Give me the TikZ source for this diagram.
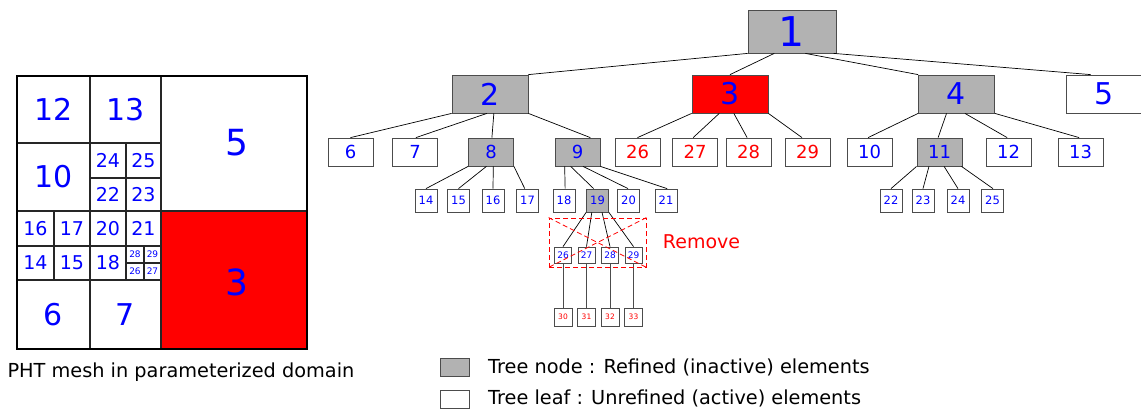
\documentclass[tikz,border=0pt]{standalone}
\usepackage{fontspec}
\setmainfont{DejaVu Sans}
\usetikzlibrary{calc}
\tikzset{
    box/.style={draw=black!70, line width=0.8pt, fill=white, inner sep=0pt, text=blue},
    refined/.style={box, fill=gray!60},
    lvlA/.style={minimum width=88, minimum height=43, font=\fontsize{41}{41}\selectfont},
    lvlB/.style={minimum width=76, minimum height=38, font=\fontsize{30}{30}\selectfont},
    lvlC/.style={minimum width=45, minimum height=28, font=\fontsize{18}{18}\selectfont},
    lvlD/.style={minimum width=22, minimum height=23, font=\fontsize{11.5}{11.5}\selectfont},
    lvlE/.style={minimum width=17, minimum height=16, font=\fontsize{9}{9}\selectfont},
    lvlF/.style={minimum width=18, minimum height=18, font=\fontsize{7.5}{7.5}\selectfont, text=red},
    meshline/.style={black!85, line width=1.2pt},
    cell/.style={text=blue, inner sep=0pt},
    caption/.style={font=\fontsize{19.3}{19.3}\selectfont, inner sep=0pt},
}
\begin{document}
\begin{tikzpicture}[x=1pt,y=-1pt]
\useasboundingbox (0,0) rectangle (1141,410);

% mesh
\fill[red] (161,211) rectangle (307,349);
\draw[meshline] (90,76) -- (90,349) (161,76) -- (161,349);
\draw[meshline] (17,143) -- (161,143) (17,211) -- (307,211) (17,280) -- (161,280);
\draw[meshline] (126,143) -- (126,280) (90,178) -- (161,178);
\draw[meshline] (54,211) -- (54,280) (17,246) -- (161,246);
\draw[meshline] (144,246) -- (144,280) (126,263) -- (161,263);
\draw[black, line width=2pt] (17,76) rectangle (307,349);

\node[cell, font=\fontsize{30}{30}\selectfont] (m12) at (53.5,109.5) {12};
\node[cell, font=\fontsize{30}{30}\selectfont] (m13) at (125.5,109.5) {13};
\node[cell, font=\fontsize{30}{30}\selectfont] (m10) at (53.5,177) {10};
\node[cell, font=\fontsize{30}{30}\selectfont] (m6) at (53.5,314.5) {6};
\node[cell, font=\fontsize{30}{30}\selectfont] (m7) at (125.5,314.5) {7};
\node[cell, font=\fontsize{36}{36}\selectfont] (m5) at (237,143) {5};
\node[cell, font=\fontsize{36}{36}\selectfont] (m3) at (237,282) {3};
\foreach \n/\x/\y in {24/108/160.5, 25/143.5/160.5, 22/108/194.5, 23/143.5/194.5,
    16/35.5/228.5, 17/72/228.5, 14/35.5/263, 15/72/263, 20/108/228.5, 21/143.5/228.5, 18/108/263}
    \node[cell, font=\fontsize{19}{19}\selectfont] (m\n) at (\x,\y) {\n};
\foreach \n/\x/\y in {28/135/254.5, 29/152.5/254.5, 26/135/271.5, 27/152.5/271.5}
    \node[cell, font=\fontsize{9}{9}\selectfont] (m\n) at (\x,\y) {\n};

\node[caption] (meshcap) at (181,372) {PHT mesh in parameterized domain};

% tree
\node[refined, lvlA] (t1) at (792,31.5) {1};
\node[refined, lvlB] (t2) at (490,94) {2};
\node[box, lvlB, fill=red] (t3) at (730,94) {3};
\node[refined, lvlB] (t4) at (956.5,94) {4};
\node[box, lvlB] (t5) at (1104.5,94) {5};

\foreach \n/\x in {6/350.5, 7/415, 10/869.5, 12/1008.5, 13/1080.5}
    \node[box, lvlC] (t\n) at (\x,152) {\n};
\node[refined, lvlC] (t8) at (491,152) {8};
\node[refined, lvlC] (t9) at (577.5,152) {9};
\node[refined, lvlC] (t11) at (939.5,152) {11};
\foreach \n/\x in {26/637.5, 27/695, 28/748.5, 29/807.5}
    \node[box, lvlC, text=red] (t\n) at (\x,152) {\n};

\foreach \n/\x in {14/426, 15/458.5, 16/493, 17/527.5, 18/564, 20/628.5, 21/666,
    22/891, 23/923, 24/958, 25/992.5}
    \node[box, lvlD] (t\n) at (\x,200.5) {\n};
\node[refined, lvlD] (t19) at (597.5,200.5) {19};

\foreach \n/\m/\x in {26/30/563, 27/31/586.5, 28/32/610, 29/33/633.5}{
    \node[box, lvlE] (r\n) at (\x,255) {\n};
    \node[box, lvlF] (r\m) at (\x,317) {\m};
    \draw[black!70, line width=0.8pt] (r\n.south) -- (r\m.north);
}

\foreach \p/\f/\c/\g in {t1/0/t2/1, t1/0.3/t3/0.5, t1/0.65/t4/0, t1/0.97/t5/0.32,
    t2/0/t6/0.5, t2/0.46/t7/0.52, t2/0.55/t8/0.52, t2/1/t9/0.78,
    t3/0/t26/0.5, t3/0.36/t27/0.46, t3/0.55/t28/0.47, t3/1/t29/0.38,
    t4/0/t10/0.47, t4/0.37/t11/0.47, t4/0.61/t12/0.47, t4/1/t13/0.47,
    t8/0/t14/0.5, t8/0.4/t15/0.5, t8/0.55/t16/0.5, t8/1/t17/0.38,
    t9/0.22/t18/0.55, t9/0.35/t19/0.33, t9/0.62/t20/0.48, t9/1/t21/0.55,
    t11/0/t22/0.5, t11/0.27/t23/0.5, t11/0.6/t24/0.5, t11/0.98/t25/0.52,
    t19/0/r26/0.5, t19/0.25/r27/0.5, t19/0.7/r28/0.5, t19/1/r29/0.5}
    \draw[line width=0.7pt] ($(\p.south west)!\f!(\p.south east)$) -- ($(\c.north west)!\g!(\c.north east)$);

% removed part
\node[draw=red, dash pattern=on 5pt off 3pt, line width=0.8pt, minimum width=97, minimum height=49, inner sep=0pt] (rmbox) at (597.5,242.5) {};
\draw[red, dash pattern=on 5pt off 3pt, line width=0.8pt] (rmbox.north west) -- (rmbox.south east) (rmbox.north east) -- (rmbox.south west);
\node[text=red, font=\fontsize{19}{19}\selectfont, inner sep=0pt] (rmlabel) at (701.5,242) {Remove};

% legend
\node[refined, minimum width=29, minimum height=18] (keyref) at (454.5,367) {};
\node[box, minimum width=29, minimum height=18] (keyleaf) at (454.5,399) {};
\node[caption, anchor=west] (keyreftext) at (488,367) {Tree node : Refined (inactive) elements};
\node[caption, anchor=west] (keyleaftext) at (488,398) {Tree leaf : Unrefined (active) elements};
\end{tikzpicture}
\end{document}
